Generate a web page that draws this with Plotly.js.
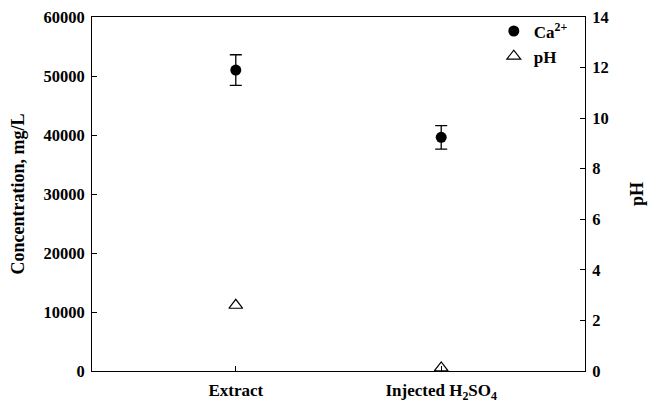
<!DOCTYPE html>
<html><head><meta charset="utf-8">
<script src="https://cdn.plot.ly/plotly-3.0.1.min.js"></script>
<style>body{margin:0;background:#fff}#chart{width:661px;height:404px}</style>
</head><body><div id="chart"></div>
<script>
const categories = ["Extract", "Injected H<sub>2</sub>SO<sub>4</sub>"];
const caValues = [51000, 39600];
const caErrors = [2600, 2000];
const phValues = [2.6, 0.12];
const yTicks = [0, 10000, 20000, 30000, 40000, 50000, 60000];
const y2Ticks = [0, 2, 4, 6, 8, 10, 12, 14];

const font = {family: "Liberation Serif, Times New Roman, serif", color: "#000"};
const f = (s) => Object.assign({size: s, weight: "bold"}, font);
const traces = [
  {x: categories, y: caValues, name: "Ca<sup>2+</sup>", type: "scatter", mode: "markers",
   marker: {symbol: "circle", size: 11, color: "#000"},
   error_y: {type: "data", array: caErrors, visible: true, color: "#000", thickness: 1.3, width: 6}},
  {x: categories, y: phValues, name: "pH", type: "scatter", mode: "markers", yaxis: "y2",
   marker: {symbol: "triangle-up-open", size: 12, color: "#000", line: {width: 1.2}}}
];
const layout = {
  width: 661, height: 404,
  margin: {l: 92, r: 76, t: 17, b: 33},
  paper_bgcolor: "#fff", plot_bgcolor: "#fff",
  font: Object.assign({size: 16}, font),
  showlegend: true,
  legend: {x: 0.815, y: 1.01, xanchor: "left", yanchor: "top", bgcolor: "rgba(0,0,0,0)",
           font: f(17), tracegroupgap: 0, itemwidth: 30},
  xaxis: {type: "category", range: [-0.7, 1.7], showline: true, linecolor: "#000", linewidth: 1,
          mirror: true, ticks: "inside", ticklen: 5, tickcolor: "#000", showgrid: false, zeroline: false,
          tickfont: f(17), ticklabelstandoff: 4},
  yaxis: {range: [0, 60000], tickvals: yTicks, ticktext: yTicks.map(String), showline: true,
          linecolor: "#000", linewidth: 1, ticks: "inside", ticklen: 5, tickcolor: "#000",
          showgrid: false, zeroline: false, tickfont: f(16.5), ticklabelstandoff: 3,
          title: {text: "Concentration, mg/L", font: f(18), standoff: 14}},
  yaxis2: {range: [0, 14], tickvals: y2Ticks, overlaying: "y", side: "right", showline: true,
           linecolor: "#000", linewidth: 1, ticks: "inside", ticklen: 5, tickcolor: "#000",
           showgrid: false, zeroline: false, tickfont: f(16.5), ticklabelstandoff: 3,
           title: {text: "pH", font: f(18), standoff: 22}}
};
Plotly.newPlot("chart", traces, layout, {staticPlot: true});
</script></body></html>
